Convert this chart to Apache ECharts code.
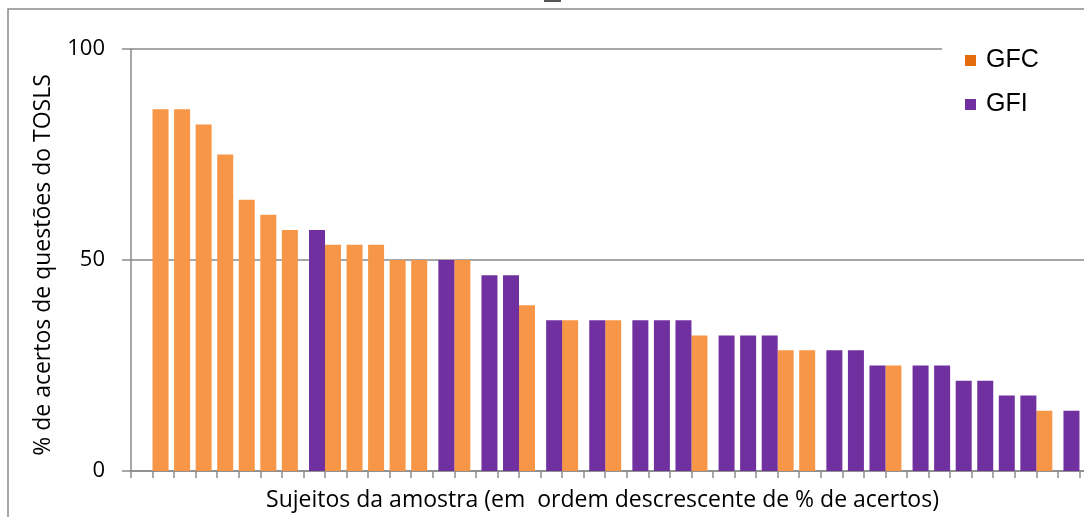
<!DOCTYPE html>
<html>
<head>
<meta charset="utf-8">
<script src="https://cdn.jsdelivr.net/npm/echarts@6/dist/echarts.min.js"></script>
<style>html,body{margin:0;padding:0;background:#fff;}#c{width:1084px;height:517px;}</style>
</head>
<body>
<div id="c"></div>
<script>
// Subjects (categories), ordered by descending % of correct answers
const categories = ['S1','S2','S3','S4','S5','S6','S7','S8','S9','S10','S11','S12','S13','S14','S15','S16','S17','S18','S19','S20','S21','S22','S23','S24','S25','S26','S27','S28','S29','S30','S31','S32','S33','S34','S35','S36','S37','S38','S39','S40','S41','S42','S43','S44','S45'];
// GFC values (% de acertos), null where the subject belongs to GFI
const gfcValues = [null,85.7,85.7,82.1,75.0,64.3,60.7,57.1,null,53.6,53.6,53.6,50.0,50.0,null,50.0,null,null,39.3,null,35.7,null,35.7,null,null,null,32.1,null,null,null,28.6,28.6,null,null,null,25.0,null,null,null,null,null,null,14.3,null,null];
// GFI values (% de acertos), null where the subject belongs to GFC
const gfiValues = [null,null,null,null,null,null,null,null,57.1,null,null,null,null,null,50.0,null,46.4,46.4,null,35.7,null,35.7,null,35.7,35.7,35.7,null,32.1,32.1,32.1,null,null,28.6,28.6,25.0,null,25.0,25.0,21.4,21.4,17.9,17.9,null,14.3,null];
const yTicks = [0, 50, 100];
const seriesNames = ['GFC', 'GFI'];

const chart = echarts.init(document.getElementById('c'), null, {renderer: 'canvas'});
const axisGrey = '#8a8a8a';
const font = '"Open Sans", "Liberation Sans", sans-serif';
chart.setOption({
  animation: false,
  backgroundColor: '#ffffff',
  grid: {left: 131, top: 49, width: 970, height: 422, containLabel: false, outerBoundsMode: 'none'},
  legend: {
    orient: 'vertical',
    left: 942, top: 40,
    padding: [8, 60, 8, 23],
    backgroundColor: '#ffffff',
    itemWidth: 11, itemHeight: 11, itemGap: 19,
    icon: 'rect',
    textStyle: {fontFamily: '"Liberation Sans", Arial, sans-serif', fontSize: 25, color: '#000', padding: [0, 0, 0, 5]},
    data: [
      {name: seriesNames[0], itemStyle: {color: '#E46C0A'}},
      {name: seriesNames[1], itemStyle: {color: '#7030A0'}}
    ]
  },
  xAxis: {
    type: 'category',
    data: categories,
    boundaryGap: true,
    name: 'Sujeitos da amostra (em  ordem descrescente de % de acertos)',
    nameLocation: 'middle',
    nameGap: 18,
    nameTextStyle: {fontFamily: font, fontSize: 23, color: '#000', padding: [0, 27, 0, 0]},
    axisLine: {lineStyle: {color: axisGrey, width: 1.5}},
    axisTick: {show: true, interval: 0, length: 7, lineStyle: {color: axisGrey, width: 1.5}},
    axisLabel: {show: false, interval: 0},
    splitLine: {show: false}
  },
  yAxis: {
    type: 'value',
    min: yTicks[0], max: yTicks[2], interval: 50,
    name: '% de acertos de questões do TOSLS',
    nameLocation: 'middle',
    nameGap: 76,
    nameTextStyle: {fontFamily: font, fontSize: 23, color: '#000', padding: [0, 10, 0, 0]},
    axisLine: {show: true, lineStyle: {color: axisGrey, width: 1.5}},
    axisTick: {show: true, length: 9, lineStyle: {color: axisGrey, width: 1.5}},
    axisLabel: {fontFamily: font, fontSize: 22, color: '#000', margin: 26},
    splitLine: {show: true, lineStyle: {color: axisGrey, width: 1.5}}
  },
  series: [
    {name: seriesNames[0], type: 'bar', data: gfcValues, barWidth: 16, barGap: '-65%', itemStyle: {color: '#F79646'}},
    {name: seriesNames[1], type: 'bar', data: gfiValues, barWidth: 16, barGap: '-65%', itemStyle: {color: '#7030A0'}}
  ],
  graphic: [
    {type: 'rect', shape: {x: 8, y: 9, width: 1200, height: 700}, style: {fill: 'none', stroke: '#8a8a8a', lineWidth: 1.5}, silent: true, z: -1},
    {type: 'rect', shape: {x: 544, y: 0, width: 17, height: 2}, style: {fill: '#555'}, silent: true}
  ]
});
</script>
</body>
</html>
